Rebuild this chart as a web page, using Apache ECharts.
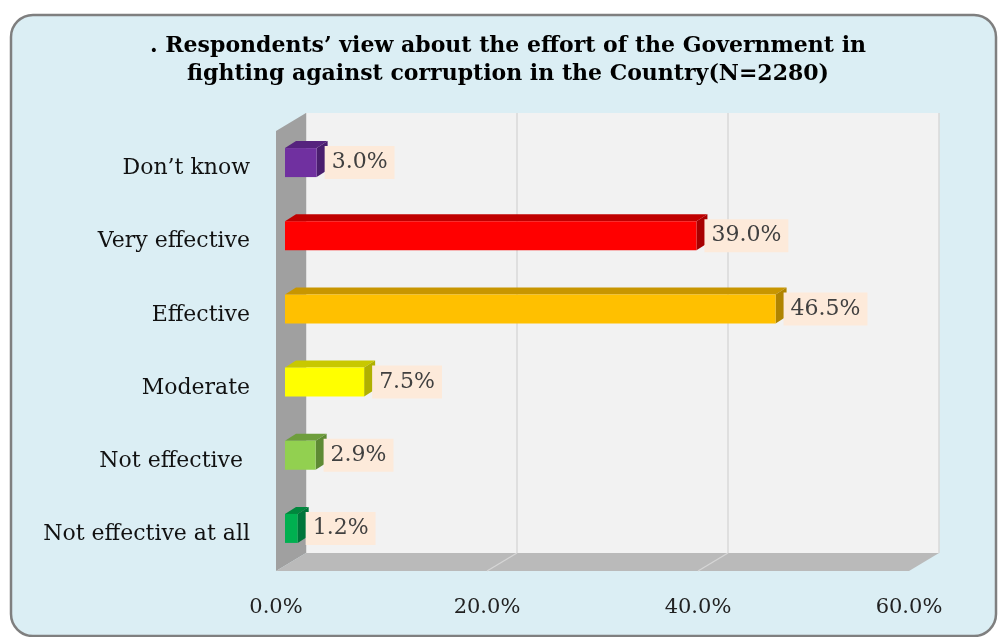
<!DOCTYPE html>
<html>
<head>
<meta charset="utf-8">
<script src="https://cdn.jsdelivr.net/npm/echarts@6/dist/echarts.min.js"></script>
<style>
  html, body { margin: 0; padding: 0; background: #fff; }
  #chart { width: 998px; height: 637px; }
</style>
</head>
<body>
<div id="chart"></div>
<script>
// data (bottom to top)
const categories = ["Not effective at all", "Not effective ", "Moderate", "Effective", "Very effective", "Don’t know"];
const values = [1.2, 2.9, 7.5, 46.5, 39.0, 3.0];
const frontColors = ["#00B050", "#92D050", "#FFFF00", "#FFC000", "#FF0000", "#7030A0"];
const topColors = ["#00873D", "#6E9E3C", "#C8C800", "#C89600", "#C00000", "#56237E"];
const sideColors = ["#00753A", "#5E8A33", "#B0B000", "#B08400", "#A80000", "#4A1E6E"];
const xTicks = [0, 20, 40, 60];

// layout
const BACK = { left: 306, right: 59, top: 113, bottom: 84 };   // back wall
const BARS = { left: 285, right: 80, top: 126, bottom: 72 };   // bars plane
const DEPTH = [-30, 18];      // back wall -> front edge
const BAR_DEPTH = [11, -7];   // front face -> top/side of a bar
const BAR_H = 29;
const SERIF = "DejaVu Serif";

const chart = echarts.init(document.getElementById("chart"));

function renderFaces(params, api) {
  const i = api.value(1);
  const s = api.coord([0, i]);
  const e = api.coord([api.value(0), i]);
  const y0 = e[1] - BAR_H / 2, y1 = e[1] + BAR_H / 2;
  const [dx, dy] = BAR_DEPTH;
  return {
    type: "group",
    children: [
      {
        type: "polygon",
        shape: { points: [[s[0], y0], [s[0] + dx, y0 + dy], [e[0] + dx, y0 + dy], [e[0], y0]] },
        style: { fill: topColors[i] }
      },
      {
        type: "polygon",
        shape: { points: [[e[0], y0], [e[0] + dx, y0 + dy], [e[0] + dx, y1 + dy], [e[0], y1]] },
        style: { fill: sideColors[i] }
      }
    ]
  };
}

const option = {
  backgroundColor: "#fff",
  animation: false,
  title: {
    text: ". Respondents’ view about the effort of the Government in\nfighting against corruption in the Country(N=2280)",
    left: 503,
    textAlign: "center",
    top: 27,
    textStyle: { fontFamily: SERIF, fontSize: 22, fontWeight: "bold", color: "#000", lineHeight: 28 }
  },
  grid: [
    Object.assign({ show: true, backgroundColor: "#F2F2F2", borderWidth: 0, z: 0 }, BACK),
    BARS
  ],
  xAxis: [
    {
      gridIndex: 0, type: "value", min: 0, max: 60, interval: 20, z: 1,
      axisLabel: { show: false }, axisLine: { show: false }, axisTick: { show: false },
      splitLine: { lineStyle: { color: "#D9D9D9", width: 1.5 } }
    },
    {
      gridIndex: 1, type: "value", min: 0, max: 60, interval: 20,
      axisLine: { show: false }, axisTick: { show: false }, splitLine: { show: false },
      axisLabel: {
        margin: 32, fontFamily: SERIF, fontSize: 21, color: "#222",
        padding: [0, 18, 0, 0],
        formatter: v => v.toFixed(1) + "%"
      }
    }
  ],
  yAxis: [
    { gridIndex: 0, type: "category", data: categories, show: false },
    {
      gridIndex: 1, type: "category", data: categories,
      axisLine: { show: false }, axisTick: { show: false },
      axisLabel: {
        margin: 35,
        formatter: v => "{c|" + v + "}",
        rich: { c: { fontFamily: SERIF, fontSize: 22, color: "#111", padding: [12, 0, 0, 0] } }
      }
    }
  ],
  series: [
    {
      type: "custom",
      xAxisIndex: 1, yAxisIndex: 1,
      z: 3,
      data: values.map((v, i) => [v, i]),
      encode: { x: 0, y: 1 },
      renderItem: renderFaces
    },
    {
      type: "bar",
      xAxisIndex: 1, yAxisIndex: 1,
      z: 4,
      barWidth: BAR_H,
      data: values.map((v, i) => ({ value: v, itemStyle: { color: frontColors[i] } })),
      label: {
        show: true, position: "right", distance: 8,
        backgroundColor: "#FDEADA", padding: [6, 7, 5, 7],
        fontFamily: SERIF, fontSize: 22, color: "#404040",
        formatter: p => p.value.toFixed(1) + "%"
      }
    }
  ]
};

chart.setOption(option);

// walls and floor, placed from the back wall's own axis
const bx = xTicks.map(v => chart.convertToPixel({ xAxisIndex: 0 }, v));
const wallTop = BACK.top, wallBottom = 637 - BACK.bottom;
const [ddx, ddy] = DEPTH;
const wallLeft = bx[0], wallRight = bx[bx.length - 1];

const graphics = [
  {
    type: "rect", z: -10,
    shape: { x: 11, y: 15, width: 985, height: 621, r: 22 },
    style: { fill: "#DBEEF4", stroke: "#7F7F7F", lineWidth: 2.5 }
  },
  {
    type: "polygon", z: 1,
    shape: { points: [[wallLeft, wallTop], [wallLeft, wallBottom], [wallLeft + ddx, wallBottom + ddy], [wallLeft + ddx, wallTop + ddy]] },
    style: { fill: "#A0A0A0" }
  },
  {
    type: "polygon", z: 1,
    shape: { points: [[wallLeft, wallBottom], [wallRight, wallBottom], [wallRight + ddx, wallBottom + ddy], [wallLeft + ddx, wallBottom + ddy]] },
    style: { fill: "#BABABA" }
  }
];
bx.slice(1, -1).forEach(x => {
  graphics.push({
    type: "line", z: 1,
    shape: { x1: x, y1: wallBottom, x2: x + ddx, y2: wallBottom + ddy },
    style: { stroke: "#D6D6D6", lineWidth: 1.2 }
  });
});
chart.setOption({ graphic: graphics });
</script>
</body>
</html>
